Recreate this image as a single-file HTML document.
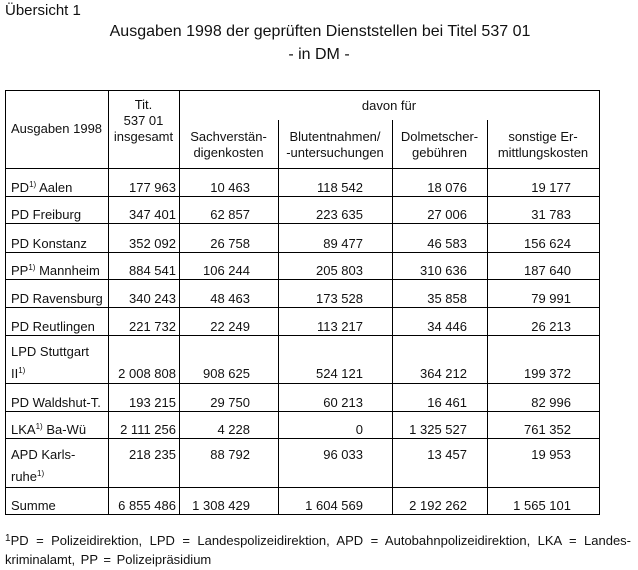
<!DOCTYPE html>
<html><head><meta charset="utf-8">
<style>
html,body{margin:0;padding:0;background:#fff;}
body{width:638px;height:570px;position:relative;overflow:hidden;font-family:"Liberation Sans",Arial,sans-serif;color:#111;font-size:13px;}
.t{position:absolute;white-space:nowrap;line-height:16px;height:16px;}
.r{text-align:right;}
.c{text-align:center;}
.h{position:absolute;height:1px;background:#000;}
.v{position:absolute;width:1px;background:#000;}
sup{font-size:8px;vertical-align:baseline;position:relative;top:-5px;line-height:0;}
</style></head>
<body>
<div class="t" style="left:5px;top:3px;font-size:15px;">Übersicht 1</div>
<div class="t c" style="left:0;width:640px;top:24px;font-size:16px;">Ausgaben 1998 der geprüften Dienststellen bei Titel 537 01</div>
<div class="t c" style="left:0;width:638px;top:47px;font-size:16px;">- in DM -</div>

<div id="tbl"></div>

<div class="t" style="left:5px;top:533px;width:626px;text-align:justify;text-align-last:justify;"><sup style="font-size:10px;top:-4px;">1</sup>PD = Polizeidirektion, LPD = Landespolizeidirektion, APD = Autobahnpolizeidirektion, LKA = Landes-</div>
<div class="t" style="left:5px;top:552px;word-spacing:2px;">kriminalamt, PP = Polizeipräsidium</div>

<script>
const rowLabels = ["PD<sup>1)</sup> Aalen","PD Freiburg","PD Konstanz","PP<sup>1)</sup> Mannheim","PD Ravensburg","PD Reutlingen","LPD Stuttgart<br>II<sup>1)</sup>","PD Waldshut-T.","LKA<sup>1)</sup> Ba-Wü","APD Karls-<br>ruhe<sup>1)</sup>","Summe"];
const totalValues = ["177 963","347 401","352 092","884 541","340 243","221 732","2 008 808","193 215","2 111 256","218 235","6 855 486"];
const expertValues = ["10 463","62 857","26 758","106 244","48 463","22 249","908 625","29 750","4 228","88 792","1 308 429"];
const bloodValues = ["118 542","223 635","89 477","205 803","173 528","113 217","524 121","60 213","0","96 033","1 604 569"];
const interpValues = ["18 076","27 006","46 583","310 636","35 858","34 446","364 212","16 461","1 325 527","13 457","2 192 262"];
const otherValues = ["19 177","31 783","156 624","187 640","79 991","26 213","199 372","82 996","761 352","19 953","1 565 101"];

const tbl = document.getElementById('tbl');
const rowBottoms = [196,223,252,279,307,335,383,411,438,487,514];
const colRights = [176,250,363,467,571];
function add(cls, style, html){
  const d = document.createElement('div');
  d.className = cls; d.style.cssText = style; if(html!==undefined) d.innerHTML = html;
  tbl.appendChild(d); return d;
}
let e;
e = add('h','left:5px;top:90px;width:595px;');


e = add('h','left:5px;top:168px;width:595px;');


rowBottoms.forEach(y=>{
  const l = add('h','left:5px;top:'+y+'px;width:595px;');
  
  
});
[[5,90],[108,90],[179,90],[278,120],[392,120],[487,120],[599,90]].forEach(p=>{
  const l = add('v','left:'+p[0]+'px;top:'+p[1]+'px;height:'+(515-p[1])+'px;');
  
  
});
const hdr = [
  [5,103,121,"Ausgaben 1998"],
  [108,71,97,"Tit.<br>537 01<br>insgesamt"],
  [179,420,98,"davon für"],
  [179,99,129,"Sachverstän-<br>digenkosten"],
  [278,114,129,"Blutentnahmen/<br>-untersuchungen"],
  [392,95,129,"Dolmetscher-<br>gebühren"],
  [487,112,129,"sonstige Er-<br>mittlungskosten"]
];
hdr.forEach(h=>{
  const d = add('t c','left:'+h[0]+'px;width:'+h[1]+'px;top:'+h[2]+'px;height:auto;line-height:16px;', h[3]);
  
  
});
const cols = [totalValues, expertValues, bloodValues, interpValues, otherValues];
rowLabels.forEach((lab,i)=>{
  const b = rowBottoms[i];
  let labTop, numTop;
  if(lab.indexOf('<br>')>=0){
    if(i===6){ labTop = b-42; numTop = b-17; }
    else { labTop = b-43; numTop = b-40; }
  } else { labTop = b-16; numTop = b-16; }
  const d = add('t','left:11px;top:'+labTop+'px;height:auto;line-height:22px;', lab);
  
  
  if(lab.indexOf('<br>')<0){ d.style.lineHeight='16px'; }
  cols.forEach((arr,c)=>{
    const n = add('t r','left:'+(colRights[c]-100)+'px;width:100px;top:'+numTop+'px;', arr[i]);
    
    
  });
});
</script>
</body></html>
